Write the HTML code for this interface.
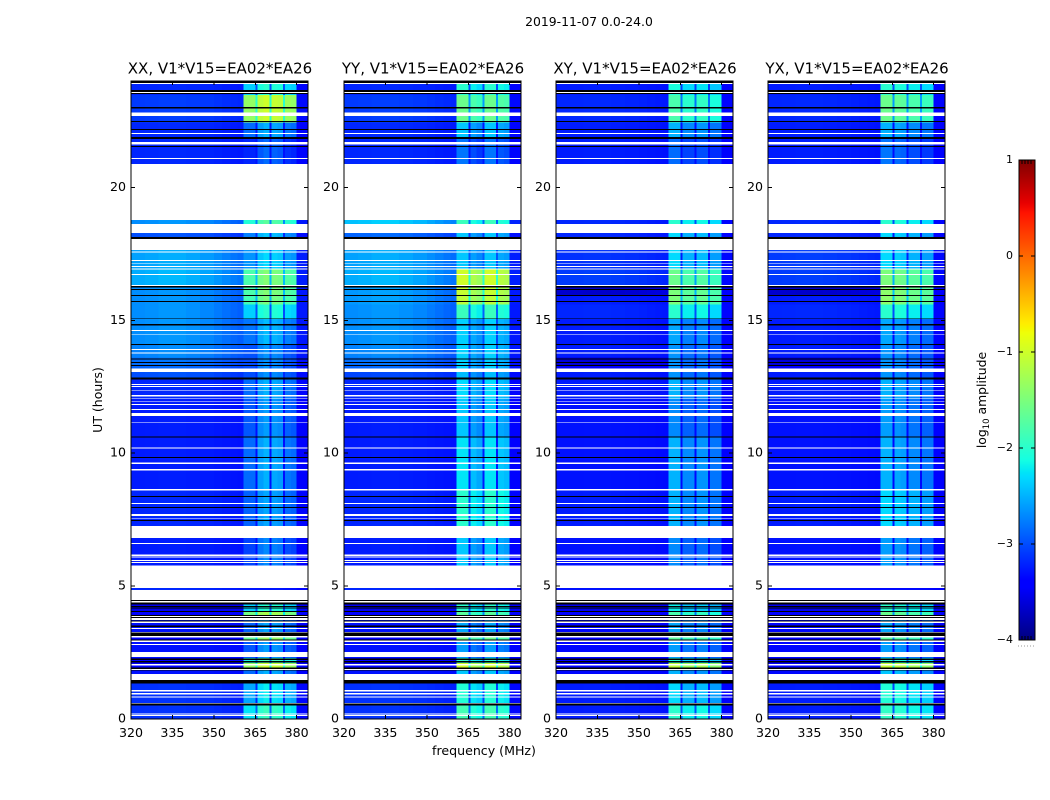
<!DOCTYPE html>
<html lang="en">
<head>
<meta charset="utf-8">
<title>2019-11-07 amplitude waterfall</title>
<style>
html,body{margin:0;padding:0;background:#fff;width:1050px;height:800px;overflow:hidden}
svg{display:block;font-family:"DejaVu Sans","Liberation Sans",sans-serif;fill:#000}
</style>
</head>
<body>
<svg id="chart" xmlns="http://www.w3.org/2000/svg" width="1050" height="800" viewBox="0 0 1050 800">
  <rect x="0" y="0" width="1050" height="800" fill="#fff"/>
  <text x="589" y="26" text-anchor="middle" font-size="12.4px">2019-11-07 0.0-24.0</text>
  <text x="0" y="0" transform="translate(102,400) rotate(-90)" text-anchor="middle" font-size="12.5px">UT (hours)</text>
  <text x="484" y="755" text-anchor="middle" font-size="12.6px">frequency (MHz)</text>
  <text x="0" y="0" transform="translate(986,400) rotate(-90)" text-anchor="middle" font-size="12.4px">log<tspan font-size="8.5px" dy="3">10</tspan><tspan dy="-3"> amplitude</tspan></text>
  <g id="panels"></g>
  <g id="colorbar"></g>
</svg>
<script>
// ---- axis data ----
const panelTitles = ["XX, V1*V15=EA02*EA26", "YY, V1*V15=EA02*EA26", "XY, V1*V15=EA02*EA26", "YX, V1*V15=EA02*EA26"];
const xTicks = [320, 335, 350, 365, 380];
const yTicks = [0, 5, 10, 15, 20];
const colorbarTicks = [-4, -3, -2, -1, 0, 1];

// ---- frequency channels (MHz edges) and their spectral shape ----
const channelEdges = [320,325,330,335,340,345,350,353,356,358.5,360.7,365,365.8,368,370.1,370.8,373,375.1,375.8,378,380,384];
const baseShape = [0.02,0.05,0.1,0.1,0.05,-0.02,-0.1,-0.18,-0.25,-0.3,-0.35,-0.4,-0.35,-0.35,-0.4,-0.35,-0.35,-0.45,-0.5,-0.55,-0.8];
const shapeXX = [-9,-9,-9,-9,-9,-9,-9,-9,-9,-9,-0.35,-1,-0.1,0,-1,-0.05,-0.1,-1,-0.3,-0.35,-9];
const shapeYY = [-9,-9,-9,-9,-9,-9,-9,-9,-9,-9,0,-1,-0.2,-0.3,-1,0,0,-1,-0.15,-0.2,-9];
const shapeXY = [-9,-9,-9,-9,-9,-9,-9,-9,-9,-9,0,-1,-0.2,-0.2,-1,-0.15,-0.15,-1,-0.3,-0.3,-9];
const shapeYX = [-9,-9,-9,-9,-9,-9,-9,-9,-9,-9,0,-1,-0.05,-0.1,-1,-0.2,-0.2,-1,-0.3,-0.3,-9];

// ---- flagged time ranges in UT hours: [start, end] ----
const flaggedBlank = [
  [23.89,23.93],[23.55,23.59],[22.69,22.82],[22.01,22.05],[21.61,21.71],[21.07,21.10],[18.77,20.88],
  [18.28,18.62],[17.64,18.06],[17.54,17.58],[17.23,17.27],[17.12,17.14],[17.00,17.04],[16.90,16.94],
  [16.70,16.74],[16.29,16.32],[14.60,14.63],[14.46,14.49],[13.88,13.92],[13.74,13.78],[13.05,13.19],
  [12.57,12.60],[12.49,12.53],[12.35,12.38],[12.14,12.18],[12.03,12.06],[11.94,11.96],[11.81,11.85],
  [11.62,11.66],[11.40,11.52],[11.15,11.18],[10.18,10.22],[9.60,9.64],[9.34,9.41],[8.60,8.65],
  [8.09,8.13],[7.64,7.72],[7.55,7.57],[6.81,7.26],[6.58,6.63],[6.14,6.18],[6.07,6.11],[5.94,5.98],
  [5.87,5.91],[4.92,5.78],[4.48,4.86],[4.39,4.44],[3.83,3.87],[3.72,3.79],[3.61,3.66],[3.39,3.42],
  [3.25,3.28],[3.07,3.12],[2.90,2.95],[2.78,2.82],[2.34,2.52],[2.02,2.06],[1.84,1.88],[1.47,1.69],
  [1.04,1.09],[0.93,0.97],[0.80,0.84],[0.58,0.61],[0.18,0.21],[0.12,0.16]
];
const flaggedBlack = [
  [23.93,24],[23.59,23.66],[23.51,23.55],[22.97,23.02],[22.46,22.50],[22.16,22.20],[21.82,21.89],
  [21.52,21.56],[18.06,18.13],[16.24,16.28],[16.13,16.17],[15.91,15.95],[15.69,15.73],[15.04,15.07],
  [14.81,14.85],[14.06,14.10],[13.52,13.57],[13.39,13.43],[13.28,13.32],[12.78,12.84],[10.58,10.62],
  [9.82,9.86],[8.35,8.39],[7.94,7.98],[7.44,7.48],[4.44,4.48],[4.30,4.39],[4.20,4.25],[4.13,4.15],
  [4.03,4.07],[3.87,3.91],[3.79,3.83],[3.66,3.70],[3.47,3.52],[3.12,3.25],[2.95,3.00],[2.22,2.28],
  [2.12,2.18],[1.89,1.94],[1.82,1.84],[1.34,1.47],[0.50,0.58]
];

// ---- time regimes: upper edges in UT hours, then levels (log10 amplitude) ----
const regimeEdges = [24,23.47,22.44,21.9,18.77,18.28,17.64,16.94,16.3,15.95,15.6,15.05,14.1,13.6,13.28,13.05,12.84,12.03,10.6,8.6,7.26,4.92,4.48,4.07,3.9,3.07,3.0,2.3,2.1,1.94,1.34,0.58,0];
const baseXX = [-3.2,-3.1,-3.2,-3.2,-2.7,-3.0,-2.6,-2.55,-2.7,-2.7,-2.7,-2.7,-2.75,-2.85,-2.9,-3.0,-3.2,-3.25,-3.25,-3.2,-3.25,-3.2,-3.5,-3.4,-3.3,-3.4,-3.3,-3.4,-3.4,-3.3,-3.15,-3.15];
const rfiXX = [-2.0,-1.0,-2.5,-2.85,-1.7,-2.4,-2.3,-1.45,-1.45,-1.5,-2.0,-2.45,-2.65,-2.65,-2.65,-2.65,-2.5,-2.6,-2.5,-2.55,-2.7,-9,-2.0,-1.2,-2.55,-1.3,-2.6,-1.8,-1.0,-2.5,-2.2,-1.9];
const baseYY = [-3.2,-3.1,-3.2,-3.2,-2.45,-2.9,-2.6,-2.55,-2.65,-2.65,-2.7,-2.7,-2.75,-2.85,-2.9,-3.05,-3.2,-3.25,-3.25,-3.2,-3.25,-3.2,-3.5,-3.4,-3.3,-3.4,-3.3,-3.4,-3.4,-3.3,-3.15,-3.15];
const rfiYY = [-2.0,-1.6,-2.4,-2.8,-1.9,-2.4,-2.4,-1.0,-1.05,-1.1,-1.9,-2.35,-2.35,-2.35,-2.35,-2.45,-2.3,-2.4,-2.25,-2.0,-2.4,-9,-2.0,-1.7,-2.55,-1.6,-2.6,-2.0,-1.0,-2.4,-2.05,-1.85];
const baseXY = [-3.25,-3.2,-3.25,-3.25,-3.2,-3.2,-3.15,-3.1,-3.65,-3.25,-3.2,-3.25,-3.25,-3.6,-3.4,-3.25,-3.25,-3.3,-3.3,-3.25,-3.3,-3.3,-3.5,-3.4,-3.35,-3.4,-3.35,-3.4,-3.4,-3.35,-3.25,-3.25];
const rfiXY = [-2.1,-1.8,-2.5,-2.85,-2.0,-2.3,-2.3,-1.6,-1.5,-1.5,-2.0,-2.55,-2.65,-2.65,-2.65,-2.65,-2.5,-2.7,-2.5,-2.5,-2.7,-9,-2.2,-1.8,-2.55,-1.7,-2.6,-2.1,-1.1,-2.5,-2.3,-2.0];
const baseYX = [-3.25,-3.2,-3.25,-3.25,-3.2,-3.2,-3.1,-3.1,-3.65,-3.25,-3.2,-3.25,-3.25,-3.6,-3.4,-3.25,-3.25,-3.3,-3.3,-3.25,-3.3,-3.3,-3.5,-3.4,-3.35,-3.4,-3.35,-3.4,-3.4,-3.35,-3.25,-3.25];
const rfiYX = [-2.0,-1.6,-2.5,-2.8,-2.0,-2.3,-2.3,-1.5,-1.4,-1.4,-2.0,-2.55,-2.65,-2.65,-2.65,-2.65,-2.5,-2.6,-2.5,-2.3,-2.6,-9,-2.0,-1.6,-2.55,-1.7,-2.6,-2.0,-1.05,-2.4,-2.05,-1.95];

const panelBase = [baseXX, baseYY, baseXY, baseYX];
const panelRfi = [rfiXX, rfiYY, rfiXY, rfiYX];
const panelShape = [shapeXX, shapeYY, shapeXY, shapeYX];

// ---- layout ----
const NS = "http://www.w3.org/2000/svg";
const panelLeft = [131, 344, 556, 768];
const panelWidth = 177;
const plotTop = 81, plotBottom = 719;
const xMin = 320, xMax = 384.1, yMin = 0, yMax = 24;
const vMin = -4, vMax = 1;
const cbarLeft = 1019, cbarRight = 1035, cbarTop = 160, cbarBottom = 640;

function xScale(panel, f) { return panelLeft[panel] + (f - xMin) / (xMax - xMin) * panelWidth; }
function yScale(ut) { return plotBottom - (ut - yMin) / (yMax - yMin) * (plotBottom - plotTop); }
function cbarScale(v) { return cbarBottom - (v - vMin) / (vMax - vMin) * (cbarBottom - cbarTop); }

function interp(t, pts) {
  for (let i = 1; i < pts.length; i++) {
    if (t <= pts[i][0]) {
      const a = pts[i - 1], b = pts[i];
      return a[1] + (b[1] - a[1]) * (t - a[0]) / (b[0] - a[0]);
    }
  }
  return pts[pts.length - 1][1];
}
const jetR = [[0,0],[0.35,0],[0.66,1],[0.89,1],[1,0.5]];
const jetG = [[0,0],[0.125,0],[0.375,1],[0.64,1],[0.91,0],[1,0]];
const jetB = [[0,0.5],[0.11,1],[0.34,1],[0.65,0],[1,0]];
function colorOf(v) {
  const t = Math.max(0, Math.min(1, (v - vMin) / (vMax - vMin)));
  return "rgb(" + Math.round(255 * interp(t, jetR)) + "," + Math.round(255 * interp(t, jetG)) + "," + Math.round(255 * interp(t, jetB)) + ")";
}
function inRanges(ut, ranges) { return ranges.some(r => ut > r[0] && ut < r[1]); }
function regimeAt(ut) {
  for (let i = 0; i < regimeEdges.length - 1; i++) {
    if (ut <= regimeEdges[i] && ut > regimeEdges[i + 1]) return i;
  }
  return regimeEdges.length - 2;
}
function line(parent, x1, y1, x2, y2, color, width) {
  const l = document.createElementNS(NS, "line");
  l.setAttribute("x1", x1); l.setAttribute("y1", y1);
  l.setAttribute("x2", x2); l.setAttribute("y2", y2);
  l.setAttribute("stroke", color); l.setAttribute("stroke-width", width);
  l.setAttribute("shape-rendering", "crispEdges");
  parent.appendChild(l);
  return l;
}
function label(parent, x, y, anchor, size, str) {
  const t = document.createElementNS(NS, "text");
  t.setAttribute("x", x); t.setAttribute("y", y);
  t.setAttribute("text-anchor", anchor); t.setAttribute("font-size", size);
  t.textContent = str;
  parent.appendChild(t);
  return t;
}

// ---- time intervals from all edges ----
const allEdges = Array.from(new Set(
  regimeEdges.concat(flaggedBlank.flat(), flaggedBlack.flat())
)).sort((a, b) => b - a);

const panelsRoot = document.getElementById("panels");
panelTitles.forEach((title, p) => {
  const g = document.createElementNS(NS, "g");
  
  
  panelsRoot.appendChild(g);

  const cells = document.createElementNS(NS, "g");
  cells.setAttribute("shape-rendering", "crispEdges");
  
  
  g.appendChild(cells);

  for (let k = 0; k < allEdges.length - 1; k++) {
    const top = allEdges[k], bottom = allEdges[k + 1];
    const mid = (top + bottom) / 2;
    if (inRanges(mid, flaggedBlank)) continue;
    const y1 = yScale(top), y2 = yScale(bottom);
    if (inRanges(mid, flaggedBlack)) {
      const r = document.createElementNS(NS, "rect");
      
      
      r.setAttribute("x", xScale(p, xMin));
      r.setAttribute("y", y1);
      r.setAttribute("width", panelWidth);
      r.setAttribute("height", y2 - y1);
      r.setAttribute("fill", "#000");
      cells.appendChild(r);
      continue;
    }
    const ri = regimeAt(mid);
    for (let c = 0; c < channelEdges.length - 1; c++) {
      const base = panelBase[p][ri];
      const shaped = base + baseShape[c] * (base + 3.4);
      const value = Math.max(shaped, panelRfi[p][ri] + panelShape[p][c]);
      const x1 = xScale(p, channelEdges[c]), x2 = xScale(p, channelEdges[c + 1]);
      const r = document.createElementNS(NS, "rect");
      
      
      r.setAttribute("x", x1);
      r.setAttribute("y", y1);
      r.setAttribute("width", x2 - x1);
      r.setAttribute("height", y2 - y1);
      r.setAttribute("fill", colorOf(value));
      cells.appendChild(r);
    }
  }

  const L = panelLeft[p], R = L + panelWidth;
  const frame = document.createElementNS(NS, "rect");
  
  
  frame.setAttribute("x", L);
  frame.setAttribute("y", plotTop);
  frame.setAttribute("width", panelWidth);
  frame.setAttribute("height", plotBottom - plotTop);
  frame.setAttribute("fill", "none");
  frame.setAttribute("stroke", "#000");
  frame.setAttribute("stroke-width", "1");
  frame.setAttribute("shape-rendering", "crispEdges");
  g.appendChild(frame);

  xTicks.forEach(t => {
    const x = xScale(p, t);
    line(g, x, plotBottom, x, plotBottom - 4, "#000", 1);
    line(g, x, plotTop, x, plotTop + 4, "#000", 1);
    const tl = label(g, x, plotBottom + 18, "middle", "12.6px", String(t));
    
    
  });
  yTicks.forEach(t => {
    const y = yScale(t);
    line(g, L, y, L + 4, y, "#000", 1);
    line(g, R, y, R - 4, y, "#000", 1);
    const tl = label(g, L - 5, y + 3.5, "end", "12.6px", String(t));
    
    
  });

  const tt = label(g, L + panelWidth / 2 + 0.5, 73.5, "middle", "15px", title);
  
  
});

// ---- colorbar ----
const cb = document.getElementById("colorbar");
const cbGrad = document.createElementNS(NS, "g");
cbGrad.setAttribute("shape-rendering", "crispEdges");
cb.appendChild(cbGrad);
for (let py = cbarTop; py < cbarBottom; py++) {
  const v = vMax - (py + 0.5 - cbarTop) / (cbarBottom - cbarTop) * (vMax - vMin);
  const r = document.createElementNS(NS, "rect");
  
  
  r.setAttribute("x", cbarLeft);
  r.setAttribute("y", py);
  r.setAttribute("width", cbarRight - cbarLeft);
  r.setAttribute("height", 1);
  r.setAttribute("fill", colorOf(v));
  cbGrad.appendChild(r);
}
const cbFrame = document.createElementNS(NS, "rect");


cbFrame.setAttribute("x", cbarLeft);
cbFrame.setAttribute("y", cbarTop);
cbFrame.setAttribute("width", cbarRight - cbarLeft);
cbFrame.setAttribute("height", cbarBottom - cbarTop);
cbFrame.setAttribute("fill", "none");
cbFrame.setAttribute("stroke", "#000");
cbFrame.setAttribute("shape-rendering", "crispEdges");
cb.appendChild(cbFrame);
colorbarTicks.forEach(v => {
  const y = cbarScale(v);
  line(cb, cbarLeft, y, cbarLeft + 4, y, "#000", 1);
  line(cb, cbarRight, y, cbarRight - 4, y, "#000", 1);
  const t = label(cb, 1013, y + 3, "end", "11px", (v < 0 ? "\u2212" + (-v) : String(v)));
  
  
});
[1022, 1025, 1028, 1031].forEach(x => {
  line(cb, x, cbarTop, x, cbarTop + 4, "#000", 1);
  line(cb, x, cbarBottom, x, cbarBottom - 4, "#000", 1);
});
const dots = line(cb, 1018, 646, 1035, 646, "#999", 1);
dots.setAttribute("stroke-dasharray", "1 2");


</script>
</body>
</html>
